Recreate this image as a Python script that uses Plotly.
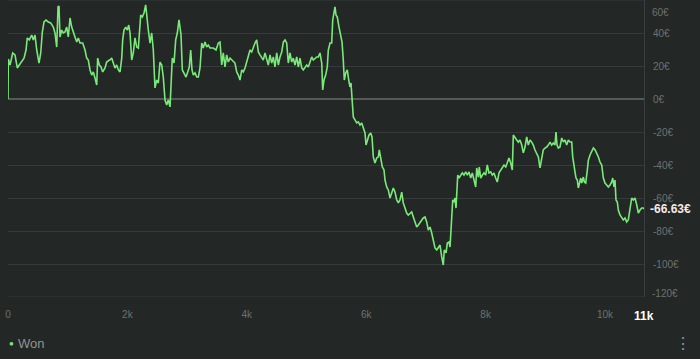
import plotly.graph_objects as go

# games played (x) and cumulative result in euros (y)
games = [0, 5, 34, 79, 117, 156, 189, 229, 268, 302, 323, 357, 397, 424, 452, 481, 519, 548, 575, 603,
         637, 675, 715, 759, 787, 816, 838, 854, 871, 899, 926, 955, 983, 1010, 1039, 1067, 1094, 1122, 1151, 1178,
         1206, 1251, 1290, 1318, 1345, 1374, 1402, 1429, 1457, 1486, 1502, 1529, 1558, 1586, 1625, 1653, 1697,
         1709, 1737, 1764, 1792, 1821, 1848, 1876, 1905, 1921, 1943, 1972, 1998, 2022, 2044, 2072, 2099, 2127,
         2156, 2183, 2199, 2223, 2250, 2278, 2306, 2323, 2350, 2379, 2407, 2434, 2462, 2491, 2518, 2546, 2575,
         2601, 2630, 2658, 2685, 2714, 2730, 2752, 2781, 2809, 2836, 2864, 2881, 2898, 2920, 2948, 2982, 3010,
         3037, 3060, 3082, 3104, 3132, 3161, 3188, 3216, 3245, 3271, 3300, 3328, 3355, 3384, 3439, 3484, 3523,
         3551, 3580, 3606, 3635, 3663, 3690, 3719, 3747, 3774, 3802, 3831, 3858, 3886, 3915, 3941, 3970, 3998,
         4025, 4054, 4082, 4109, 4137, 4166, 4193, 4221, 4250, 4276, 4305, 4333, 4360, 4389, 4417, 4444, 4472,
         4501, 4528, 4556, 4585, 4612, 4640, 4668, 4695, 4724, 4752, 4779, 4807, 4836, 4863, 4891, 4920, 4946,
         4975, 5003, 5030, 5059, 5087, 5114, 5142, 5171, 5198, 5226, 5255, 5271, 5293, 5321, 5348, 5365, 5394,
         5422, 5439, 5461, 5477, 5494, 5516, 5544, 5573, 5595, 5616, 5633, 5657, 5683, 5707, 5728, 5745, 5767,
         5784, 5812, 5841, 5868, 5896, 5925, 5951, 5980, 5997, 6025, 6047, 6075, 6097, 6119, 6147, 6176, 6203,
         6219, 6243, 6270, 6298, 6315, 6343, 6370, 6399, 6427, 6454, 6482, 6511, 6538, 6566, 6595, 6621, 6650,
         6678, 6705, 6734, 6762, 6789, 6817, 6846, 6873, 6901, 6930, 6956, 6985, 7013, 7040, 7069, 7097, 7124,
         7152, 7181, 7208, 7236, 7265, 7291, 7308, 7337, 7359, 7387, 7404, 7420, 7437, 7449, 7471, 7487, 7504,
         7516, 7533, 7554, 7583, 7610, 7638, 7667, 7693, 7722, 7750, 7777, 7806, 7834, 7851, 7878, 7894, 7918,
         7945, 7973, 8001, 8028, 8056, 8085, 8112, 8140, 8169, 8196, 8224, 8253, 8280, 8308, 8337, 8363, 8392,
         8420, 8447, 8464, 8492, 8521, 8548, 8576, 8605, 8631, 8660, 8688, 8715, 8744, 8772, 8799, 8827, 8856,
         8883, 8911, 8940, 8966, 8995, 9023, 9050, 9079, 9107, 9134, 9162, 9179, 9196, 9218, 9246, 9275, 9302,
         9330, 9358, 9385, 9414, 9442, 9459, 9481, 9497, 9514, 9536, 9553, 9570, 9593, 9610, 9637, 9654, 9677,
         9704, 9721, 9749, 9778, 9805, 9834, 9862, 9889, 9916, 9945, 9972, 10000, 10028, 10055, 10084, 10112,
         10129, 10151, 10167, 10184, 10206, 10223, 10251, 10280, 10306, 10335, 10363, 10390, 10419, 10447, 10474,
         10503, 10531, 10558, 10586, 10615, 10641, 10653]

won = [0, 24.2, 20.6, 27.9, 26.7, 18.8, 20.6, 22.4, 24.8, 29.7, 37.0, 35.8, 38.8, 35.8, 38.8, 29.7, 21.8, 27.9, 40.6, 46.7,
       47.9, 46.7, 46.1, 43.6, 40.0, 31.5, 55.8, 56.4, 37.6, 41.8, 40.0, 40.6, 43.6, 37.6, 49.1, 43.6, 40.0, 37.6, 34.5, 37.0,
       33.9, 33.9, 29.7, 24.8, 23.6, 17.6, 14.5, 16.4, 12.7, 8.5, 24.8, 20.6, 19.4, 16.4, 18.8, 22.4, 23.6,
       23.6, 24.8, 22.4, 18.8, 20.6, 17.6, 16.4, 24.8, 35.8, 41.8, 43.6, 41.8, 44.8, 40.0, 23.6, 27.9, 37.0,
       31.5, 30.9, 37.6, 50.9, 49.7, 52.1, 57.0, 49.7, 41.8, 33.9, 40.0, 29.7, 6.7, 11.5, 9.7, 22.4, 20.6,
       13.3, -0.6, -3.6, -0.6, -4.8, 11.5, 24.8, 21.8, 35.8, 40.0, 47.9, 43.6, 38.8, 17.6, 15.8, 13.3, 16.4,
       19.4, 29.7, 17.6, 14.5, 15.8, 13.3, 13.3, 18.8, 33.9, 30.9, 34.5, 31.5, 32.7, 30.9, 30.9, 29.7, 33.9,
       34.5, 20.6, 27.9, 19.4, 26.7, 22.4, 24.8, 23.6, 22.4, 21.8, 16.4, 14.5, 11.5, 17.6, 16.4, 18.8, 22.4,
       26.7, 29.7, 28.5, 31.5, 33.9, 35.8, 28.5, 26.7, 24.8, 23.6, 27.9, 24.8, 20.6, 26.7, 21.8, 25.5, 19.4,
       27.9, 20.6, 25.5, 28.5, 34.5, 35.8, 33.9, 21.8, 27.9, 22.4, 24.8, 20.6, 25.5, 19.4, 24.8, 18.8, 17.6,
       19.4, 20.6, 19.4, 22.4, 25.5, 23.6, 24.8, 25.5, 25.5, 27.9, 21.8, 5.5, 11.5, 14.5, 19.4, 29.7, 33.9,
       33.9, 47.9, 52.1, 55.8, 50.9, 49.7, 43.6, 38.8, 34.5, 23.6, 11.5, 15.8, 17.6, 11.5, 7.3, 9.7, -0.6,
       -10.9, -12.7, -14.5, -13.9, -15.8, -14.5, -17.6, -20.6, -27.9, -24.8, -21.8, -20.6, -23.0, -35.1, -38.8, -35.8, -35.1,
       -30.9, -37.0, -41.2, -43.0, -49.1, -53.3, -55.1, -60.0, -56.4, -53.9, -56.4, -61.2, -63.0, -61.2, -56.4, -63.0, -66.1,
       -69.1, -70.3, -69.1, -68.5, -71.5, -74.5, -77.6, -76.4, -75.1, -73.3, -72.1, -71.5, -74.5, -79.4, -77.6, -81.2, -85.4,
       -90.3, -91.5, -89.7, -88.5, -95.7, -100.6, -91.5, -93.3, -87.3, -86.7, -89.7, -79.4, -71.5, -61.2, -62.4, -60.0, -66.1,
       -53.3, -46.1, -47.9, -46.1, -44.8, -46.1, -44.2, -46.1, -44.2, -47.9, -44.8, -49.1, -53.3, -41.8, -47.3, -41.2, -47.9,
       -46.1, -44.8, -46.1, -40.0, -44.8, -44.2, -46.1, -44.8, -47.9, -50.3, -44.8, -43.0, -41.2, -40.0, -41.2, -38.2, -35.8,
       -38.8, -43.0, -21.8, -23.6, -24.8, -26.1, -24.8, -27.9, -32.7, -29.1, -23.0, -27.9, -24.8, -26.1, -27.9, -30.9, -32.7,
       -35.1, -41.8, -35.1, -30.9, -29.7, -29.1, -27.9, -26.1, -27.9, -26.7, -27.9, -20.0, -27.9, -29.7, -29.1, -23.6, -26.1,
       -24.8, -27.9, -24.8, -26.1, -26.1, -35.1, -41.8, -44.2, -47.9, -49.1, -53.9, -50.9, -47.9, -50.9, -47.3, -50.3, -50.9,
       -43.0, -37.0, -33.9, -32.1, -29.7, -30.9, -32.7, -35.1, -38.2, -40.0, -47.9, -50.9, -52.1, -53.3, -52.1, -50.3,
       -47.9, -53.3, -49.1, -61.2, -62.4, -67.3, -70.3, -72.1, -73.3, -72.1, -74.5, -73.3, -65.4, -60.0, -61.2,
       -60.0, -64.2, -69.1, -67.3, -66.1, -66.1, -66.63]

x_ticks = [0, 2000, 4000, 6000, 8000, 10000]
x_tick_labels = ["0", "2k", "4k", "6k", "8k", "10k"]
y_ticks = [40, 20, 0, -20, -40, -60, -80, -100]
y_tick_labels = ["40€", "20€", "0€", "-20€", "-40€", "-60€", "-80€", "-100€"]
y_min, y_max = -120, 60
series_name = "Won"
last_label = "-66.63€"
games_label = "11k"

BG = "#232826"
GREEN = "#7ae97a"
GRID = "#353b3a"
TICK = "#6d7270"

fig = go.Figure()
fig.add_trace(go.Scatter(x=games, y=won, mode="lines", line=dict(color=GREEN, width=1.6),
                         hoverinfo="skip", showlegend=False))

fig.update_layout(
    width=700, height=359, paper_bgcolor=BG, plot_bgcolor=BG,
    margin=dict(l=8, r=56, t=0, b=62),
    font=dict(family="Liberation Sans, Arial, sans-serif", color=TICK, size=10),
    showlegend=False,
)
fig.update_xaxes(range=[0, games[-1]], tickvals=x_ticks, ticktext=x_tick_labels, showgrid=False,
                 zeroline=False, showline=False, ticks="", ticklabelstandoff=10,
                 tickfont=dict(color=TICK, size=10))
fig.update_yaxes(range=[y_min, y_max], side="right", tickvals=y_ticks, ticktext=y_tick_labels,
                 showgrid=True, gridcolor=GRID, gridwidth=1, zeroline=True, zerolinecolor="#535a58",
                 zerolinewidth=1.5, showline=True, linecolor="#393f3e", linewidth=1, ticks="",
                 ticklabelstandoff=6, tickfont=dict(color=TICK, size=10))

# extra grid lines at the extremes and their labels
for v in (y_max, y_min):
    fig.add_shape(type="line", xref="paper", x0=0, x1=1, yref="y", y0=v, y1=v,
                  line=dict(color=GRID, width=1), layer="below")
fig.add_annotation(x=1, xref="paper", xanchor="left", xshift=6, y=y_max, yref="y", yshift=-12,
                   text="60€", showarrow=False, font=dict(color=TICK, size=10))
fig.add_annotation(x=1, xref="paper", xanchor="left", xshift=6, y=y_min, yref="y", yshift=4,
                   text="-120€", showarrow=False, font=dict(color=TICK, size=10))

# current value label
fig.add_annotation(x=1, xref="paper", xanchor="left", xshift=4, y=won[-1], yref="y",
                   text="<b>" + last_label + "</b>", showarrow=False,
                   font=dict(color="#f6e9e9", size=12))
# current games label
fig.add_annotation(x=games[-1], xref="x", y=0, yref="paper", yanchor="top", yshift=-10,
                   text="<b>" + games_label + "</b>", showarrow=False,
                   font=dict(color="#ffffff", size=12))

# legend
fig.add_annotation(x=0, xref="paper", xanchor="left", xshift=-1, y=0, yref="paper", yanchor="middle",
                   yshift=-46, text="<span style='color:%s'>●</span>" % GREEN, showarrow=False,
                   font=dict(size=8))
fig.add_annotation(x=0, xref="paper", xanchor="left", xshift=8, y=0, yref="paper", yanchor="middle",
                   yshift=-46, text=series_name, showarrow=False, font=dict(color="#8f9492", size=13))
fig.add_annotation(x=1, xref="paper", xanchor="center", xshift=39, y=0, yref="paper", yanchor="middle",
                   yshift=-46, text="⋮", showarrow=False, font=dict(color="#8f9492", size=16))

fig.write_html("out.html", config={"displayModeBar": False},
               post_script="document.body.style.margin='0px';document.body.style.overflow='hidden';")
